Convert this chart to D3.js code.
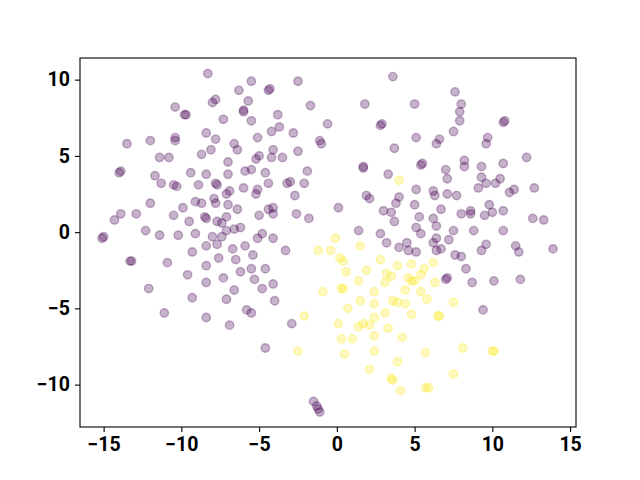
<!DOCTYPE html>
<html>
<head>
<meta charset="utf-8">
<script src="https://cdn.jsdelivr.net/npm/d3@7"></script>
<style>
  body { margin: 0; background: #fff; }
  .tick text { font-family: Roboto, "DejaVu Sans", sans-serif; font-weight: bold; font-size: 19.5px; }
</style>
</head>
<body>
<svg id="chart" width="640" height="480"></svg>
<script>
// class 0 (purple) points, [x, y]
var groupA = [
  [-10.4,8.2],[-9.8,7.7],[-9.7,7.7],[-13.5,5.8],[-12.0,6.0],[-10.4,6.2],[-10.4,6.0],[-11.4,4.9],[-10.8,4.9],[-8.7,5.1],
  [-14.0,3.9],[-13.9,4.0],[-11.7,3.7],[-9.4,3.9],[-8.4,3.8],[-8.4,6.5],[-8.3,10.4],
  [-11.3,3.2],[-10.5,3.1],[-10.3,3.0],[-8.9,3.1],[-12.0,1.9],[-13.9,1.2],[-14.3,0.8],[-12.9,1.2],[-9.9,1.6],[-9.1,2.0],
  [-8.7,1.9],[-10.5,1.1],[-9.5,0.7],[-12.3,0.1],[-11.4,-0.2],[-10.2,-0.2],[-9.1,-0.1],[-8.5,1.0],[-15.1,-0.4],[-15.0,-0.3],
  [-13.2,-1.9],[-13.3,-1.9],[-10.9,-2.0],[-9.3,-1.3],[-8.4,-0.9],[-9.6,-2.8],[-8.4,-2.2],[-12.1,-3.7],[-9.3,-4.3],
  [-8.4,-3.3],[-11.1,-5.3],[-8.4,-5.6],
  [-5.5,9.9],[-4.4,9.3],[-4.3,9.4],[-2.5,9.9],[-6.3,9.3],[-7.8,8.7],[-8.0,8.5],[-5.7,8.6],[-6.0,7.9],[-6.0,8.0],
  [-1.7,8.3],[-7.3,7.4],[-5.5,7.3],[-3.8,7.7],[-3.7,6.9],[-4.2,6.6],[-2.8,6.5],[-0.6,7.1],[-7.8,6.1],[-5.1,6.2],
  [-1.1,6.0],[-1.0,5.8],[-6.6,5.8],[-6.4,5.4],[-8.1,5.4],[-4.1,5.4],[-2.5,5.3],[-5.0,5.0],[-5.2,4.8],[-4.2,4.9],
  [-3.5,4.9],[-7.0,4.6],[-5.5,4.1],[-5.9,4.0],[-4.6,3.9],[-1.9,4.0],[-7.0,3.8],
  [-7.8,3.2],[-7.7,3.1],[-6.0,2.9],[-5.1,2.8],[-5.2,2.5],[-4.4,3.2],[-3.2,3.2],[-3.0,3.3],[-2.1,3.2],[-6.9,2.7],
  [-7.1,2.5],[-7.9,2.2],[-7.8,1.9],[-7.0,1.8],[-6.4,1.5],[-2.7,2.4],[-5.0,1.1],[-4.4,1.5],[-4.1,1.6],[-4.1,1.2],
  [-2.6,1.2],[-1.8,0.9],[-8.4,0.9],[-7.1,1.0],[-7.7,0.7],[-7.4,0.6],[-7.1,0.1],[-6.6,0.2],[-6.2,0.3],[-8.0,-0.3],
  [-7.4,-0.3],[-7.7,-0.8],[-4.8,-0.1],[-5.1,-0.4],[-4.1,-0.4],[-6.7,-1.1],[-5.9,-0.9],[-3.3,-1.2],[-5.4,-1.5],
  [-7.6,-1.7],[-6.5,-1.8],[-4.6,-2.4],[-5.5,-2.4],[-6.2,-2.6],[-7.3,-3.0],[-5.3,-3.1],[-4.1,-3.4],[-4.8,-3.7],
  [-6.6,-3.8],[-7.1,-4.4],[-4.0,-4.5],
  [-5.8,-5.1],[-5.5,-5.3],[-6.9,-6.1],[-2.9,-6.0],[-4.6,-7.6],[-1.5,-11.1],[-1.3,-11.4],[-1.2,-11.6],[-1.1,-11.8],
  [3.6,10.2],[1.8,8.4],[5.0,8.4],[2.8,7.0],[2.9,7.1],[5.1,6.2],[6.6,6.1],[6.4,5.8],[3.7,5.5],[1.7,4.2],[1.7,4.3],
  [3.3,3.8],[5.5,4.5],[5.4,4.4],[7.0,4.1],[7.1,3.5],
  [7.6,9.2],[8.0,8.4],[7.9,7.9],[7.9,7.3],[10.7,7.2],[10.8,7.3],[7.5,6.6],[9.7,6.2],[9.6,5.8],[12.2,4.9],[8.2,4.7],
  [8.2,4.3],[9.3,4.3],[10.7,4.5],[9.3,3.6],[10.5,3.5],[9.6,3.2],
  [1.9,2.4],[2.1,2.2],[5.1,2.8],[6.2,2.7],[6.3,2.4],[7.1,2.5],[4.0,2.3],[3.8,1.9],[0.1,1.6],[3.0,1.4],[3.5,1.3],
  [5.0,1.8],[6.7,1.5],[5.3,1.0],[6.2,0.9],[3.7,0.7],[6.4,0.4],[5.1,0.3],[5.4,-0.1],[1.4,0.1],[2.8,-0.1],[3.2,-0.7],
  [7.2,-0.5],[6.4,-0.4],[6.2,-0.7],[4.5,-0.7],[4.0,-1.0],[4.6,-1.2],[5.1,-1.3],[6.4,-1.2],[6.7,-1.1],[7.0,-3.1],
  [7.1,-3.0],[7.5,0.1],
  [7.7,2.4],[9.1,2.9],[10.2,3.2],[11.1,2.6],[11.4,2.8],[12.7,2.9],[8.0,1.2],[8.6,1.4],[8.6,1.2],[9.5,1.1],[9.8,1.8],
  [10.0,1.3],[10.7,1.4],[12.6,0.9],[13.3,0.8],[8.8,0.1],[10.7,0.1],[9.6,-0.8],[9.3,-1.2],[11.5,-0.9],[11.7,-1.3],
  [13.9,-1.1],[7.6,-1.5],[8.0,-1.6],[8.3,-2.4],[8.7,-3.3],[10.1,-3.2],[11.8,-3.1],[9.4,-5.1]
];

// class 1 (yellow) points, [x, y]
var groupB = [
  [4.0,3.4],[-1.2,-1.2],[-0.4,-1.2],[-0.9,-3.9],[-2.1,-5.5],[-2.5,-7.8],[-0.1,-0.4],[1.5,-0.9],[0.2,-1.7],[0.4,-1.9],
  [2.8,-1.8],[0.6,-2.6],[1.9,-2.5],[3.9,-2.2],[4.8,-2.1],[6.2,-2.0],[5.6,-2.4],[3.2,-2.7],[3.5,-2.9],[4.6,-3.0],
  [4.8,-3.2],[5.0,-3.2],[5.4,-2.8],[1.4,-3.2],[3.1,-3.3],[6.3,-3.3],[0.3,-3.7],[0.4,-3.7],[2.4,-3.9],[4.4,-3.8],
  [5.4,-3.9],[5.8,-4.4],[1.5,-4.5],[3.6,-4.5],[3.9,-4.6],[4.4,-4.7],[2.4,-4.7],[0.7,-5.0],[3.1,-5.3],[4.8,-5.4],
  [6.6,-5.5],[6.5,-5.5],[0.1,-6.0],[1.7,-6.0],[1.4,-6.2],[2.1,-6.1],[2.4,-5.6],[3.3,-6.3],[2.4,-6.8],[4.2,-6.9],
  [0.3,-7.0],[1.0,-7.0],[0.5,-8.0],[2.4,-7.8],[5.7,-7.9],[3.9,-8.5],[2.1,-9.0],[3.5,-9.6],[3.6,-9.7],[4.1,-10.4],
  [5.7,-10.2],[5.9,-10.2],[7.5,-9.3],[7.5,-4.6],[8.1,-7.6],[10.0,-7.8],[10.1,-7.8]
];

var xTicks = [-15, -10, -5, 0, 5, 10, 15];
var yTicks = [-10, -5, 0, 5, 10];
var classColors = ["#440154", "#fde725"];

var svg = d3.select("#chart");
var margin = {left: 80, right: 64, top: 58, bottom: 53};
var width = 640 - margin.left - margin.right,
    height = 480 - margin.top - margin.bottom;

var x = d3.scaleLinear().domain([-16.52, 15.38]).range([0, width]);
var y = d3.scaleLinear().domain([-12.78, 11.42]).range([height, 0]);

svg.append("rect").attr("width", 640).attr("height", 480).attr("fill", "#fff");

var g = svg.append("g")
    .attr("transform", "translate(" + margin.left + "," + margin.top + ")");

var points = groupA.map(function(d) { return {x: d[0], y: d[1], c: 0}; })
    .concat(groupB.map(function(d) { return {x: d[0], y: d[1], c: 1}; }));

g.append("g")
    .selectAll("circle")
    .data(points)
    .enter().append("circle")
    .attr("cx", function(d) { return x(d.x); })
    .attr("cy", function(d) { return y(d.y); })
    .attr("r", 4.2)
    .attr("fill", function(d) { return classColors[d.c]; })
    .attr("fill-opacity", 0.3)
    .attr("stroke", function(d) { return classColors[d.c]; })
    .attr("stroke-opacity", 0.3)
    .attr("stroke-width", 1.4);

var minus = function(v) { return (v < 0 ? "\u2212" : "") + Math.abs(v); };

var xAxis = g.append("g")
    .attr("transform", "translate(0," + height + ")")
    .call(d3.axisBottom(x).tickValues(xTicks).tickSize(5).tickPadding(5).tickFormat(minus));

var yAxis = g.append("g")
    .call(d3.axisLeft(y).tickValues(yTicks).tickSize(5).tickPadding(5).tickFormat(minus));

[xAxis, yAxis].forEach(function(a) {
    a.select(".domain").remove();
    a.selectAll(".tick line").attr("stroke", "#000").attr("stroke-width", 1.1);
    a.selectAll(".tick text").attr("fill", "#000");
});

g.append("rect")
    .attr("width", width)
    .attr("height", height)
    .attr("fill", "none")
    .attr("stroke", "#000")
    .attr("stroke-width", 1.1);
</script>
</body>
</html>
